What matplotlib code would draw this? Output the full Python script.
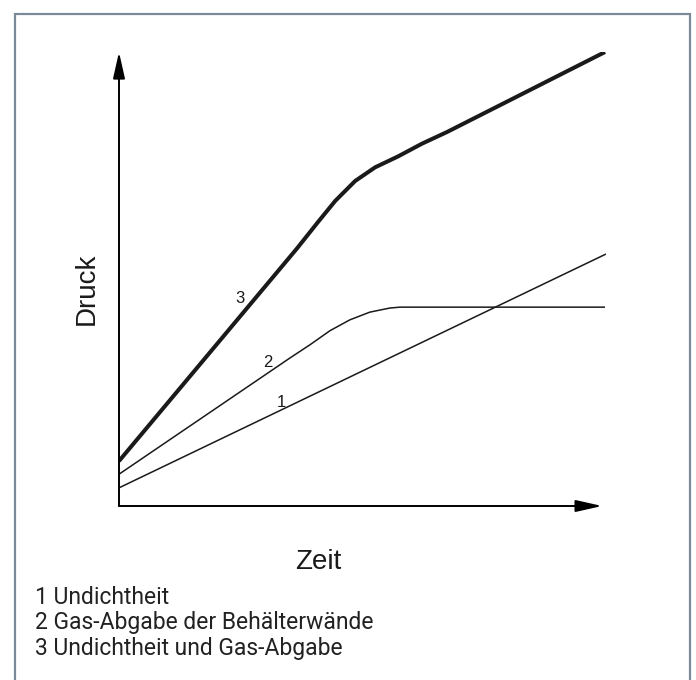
import matplotlib
matplotlib.use("Agg")
import matplotlib.pyplot as plt
from matplotlib.patches import Rectangle

plt.rcParams['font.family'] = ['Liberation Sans', 'DejaVu Sans']

# curve data (time / pressure in arbitrary units 0..100)
t1 = [0, 100]
p1 = [4.0, 55.5]

t2 = [0, 35.1, 39.2, 43.3, 47.4, 51.5, 55.6, 57.7, 99.8]
p2 = [7.0, 32.6, 35.5, 38.6, 41.0, 42.7, 43.6, 43.8, 43.8]

t3 = [0, 36.6, 40.9, 44.4, 48.5, 52.6, 57.3, 62.2, 67.4, 99.8]
p3 = [9.9, 56.8, 62.6, 67.2, 71.6, 74.6, 77.0, 79.8, 82.4, 100.0]

curve_labels = ['1', '2', '3']
label_pos = [(33.3, 22.9), (30.6, 31.7), (24.8, 45.8)]

legend_lines = ['1 Undichtheit',
                '2 Gas-Abgabe der Behälterwände',
                '3 Undichtheit und Gas-Abgabe']

W, H = 696, 680
fig = plt.figure(figsize=(W / 100, H / 100), dpi=100)

# grey frame around everything (no bottom edge visible)
fig.patches.append(Rectangle((15 / W, -0.02), (690 - 15) / W, (H - 14) / H + 0.02,
                             transform=fig.transFigure, fill=False,
                             edgecolor='#7b8a99', lw=1.6))

# axes: x 0..100 -> px 119..606, y 0..100 -> px 506..52
x0, x1 = 119, 606
y0, y1 = 506, 52
ax = fig.add_axes([x0 / W, (H - y0) / H, (x1 - x0) / W, (y0 - y1) / H])
ax.set_xlim(0, 100)
ax.set_ylim(0, 100)
ax.axis('off')

ink = '#1a1a1a'
ax.plot(t1, p1, color=ink, lw=1.1, solid_capstyle='butt')
ax.plot(t2, p2, color=ink, lw=1.1, solid_capstyle='butt', solid_joinstyle='round')
ax.plot(t3, p3, color=ink, lw=2.9, solid_capstyle='butt', solid_joinstyle='round')

for lab, (tx, py) in zip(curve_labels, label_pos):
    ax.text(tx, py, lab, fontsize=12, color=ink, ha='center', va='center')

arrow = dict(arrowstyle='-|>,head_length=0.8,head_width=0.18', mutation_scale=20,
             color='black', lw=1.4, shrinkA=0, shrinkB=0)
ax.annotate('', xy=(99.2, 0), xytext=(0, 0), arrowprops=arrow, annotation_clip=False)
ax.annotate('', xy=(0, 100), xytext=(0, 0), arrowprops=arrow, annotation_clip=False)

# axis titles
fig.text(87 / W, (H - 289) / H, 'Druck', rotation=90, fontsize=20,
         ha='center', va='center', color=ink)
fig.text(318 / W, (H - 562) / H, 'Zeit', fontsize=20,
         ha='center', va='center', color=ink)

# legend text under the chart
for i, line in enumerate(legend_lines):
    fig.text(35 / W, (H - (598 + 25 * i)) / H, line, fontsize=16.5,
             family=['Roboto', 'Liberation Sans'],
             ha='left', va='center', color='#222222')

fig.savefig('out.png', dpi=100)
